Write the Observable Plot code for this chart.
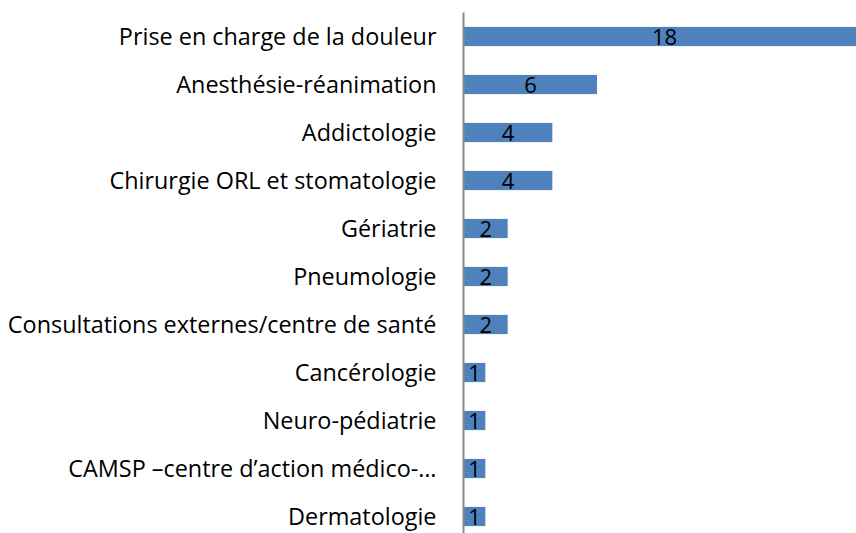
<!DOCTYPE html>
<html>
<head>
<meta charset="utf-8">
<script src="https://cdn.jsdelivr.net/npm/d3@7"></script>
<script src="https://cdn.jsdelivr.net/npm/@observablehq/plot@0.6"></script>
<style>
  html, body { margin: 0; padding: 0; background: #fff; overflow: hidden; }
  #chart svg { display: block; overflow: hidden; }
</style>
</head>
<body>
<div id="chart"></div>
<script>
const categories = [
  "Prise en charge de la douleur",
  "Anesthésie-réanimation",
  "Addictologie",
  "Chirurgie ORL et stomatologie",
  "Gériatrie",
  "Pneumologie",
  "Consultations externes/centre de santé",
  "Cancérologie",
  "Neuro-pédiatrie",
  "CAMSP –centre d’action médico-…",
  "Dermatologie"
];
const values = [18, 6, 4, 4, 2, 2, 2, 1, 1, 1, 1];

const data = categories.map((c, i) => ({category: c, value: values[i]}));
const FONT = "'Open Sans', sans-serif";

const chart = Plot.plot({
  width: 856,
  height: 533,
  marginLeft: 463,
  marginRight: -9,
  marginTop: 12.5,
  marginBottom: -7.5,
  style: {fontFamily: FONT, fontSize: "22px", color: "#000", background: "#fff", overflow: "hidden"},
  x: {domain: [0, 18], axis: null},
  y: {domain: categories, paddingInner: 0.6, paddingOuter: 0.3, round: false, axis: null},
  marks: [
    Plot.barX(data, {x: "value", y: "category", fill: "#4F81BD"}),
    Plot.text(data, {x: d => d.value / 2, y: "category", text: d => String(d.value), fill: "#000", fontSize: 22, dy: 1}),
    Plot.axisY({tickSize: 0, tickPadding: 27, fontSize: 23.4, fill: "#000", label: null}),
    Plot.ruleX([0], {stroke: "#8a8a8a", strokeWidth: 2})
  ]
});
document.getElementById("chart").appendChild(chart);
</script>
</body>
</html>
